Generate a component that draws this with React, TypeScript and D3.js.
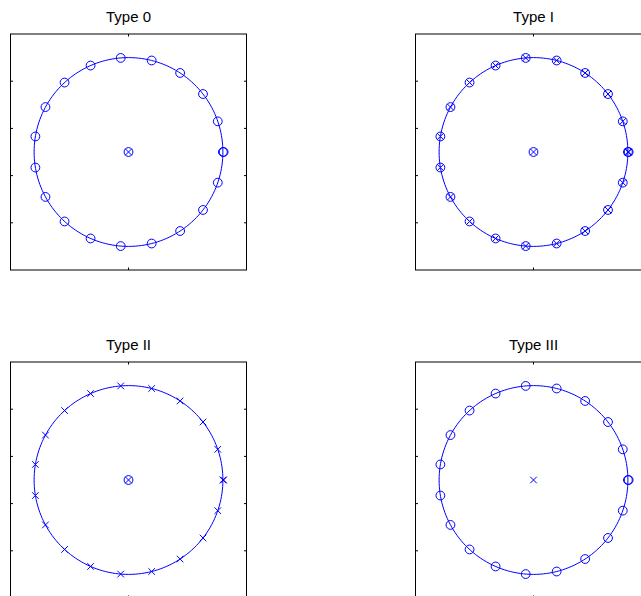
import React from "react";
import * as d3 from "d3";

// Root angles on the unit circle (degrees)
const rootAngles = [0, 18.95, 37.89, 56.84, 75.79, 94.74, 113.68, 132.63, 151.58, 170.53,
  189.47, 208.42, 227.37, 246.32, 265.26, 284.21, 303.16, 322.11, 341.05];
// A second, nearly coincident root near z = 1
const extraRootAngles = [0];
const extraRootRadius = [1.008];

const panelTitles = ["Type 0", "Type I", "Type II", "Type III"];
const circleMarkers = ["o", "ox", "x", "o"];
const centerMarkers = ["ox", "ox", "ox", "x"];

const yTicks = [-0.75, -0.25, 0.25, 0.75];
const xTicks = [0];
const domain: [number, number] = [-1.25, 1.25];

const W = 641, H = 596;
const SIZE = 236;
const lefts = [10.5, 415.5, 10.5, 415.5];
const tops = [34, 34, 362, 362];
const BLUE = "#0000ff";

function Marker({ x, y, kind }: { x: number; y: number; kind: string }) {
  const r = 4.4, s = 3.3;
  const xs = kind.includes("x") ? (
    <g>
      <line x1={x - s} y1={y - s} x2={x + s} y2={y + s} />
      <line x1={x - s} y1={y + s} x2={x + s} y2={y - s} />
    </g>
  ) : null;
  return (
    <g stroke={BLUE} strokeWidth={1} fill="none">
      {kind.includes("o") ? <circle cx={x} cy={y} r={r} /> : null}
      {xs}
    </g>
  );
}

function Panel({ i }: { i: number }) {
  const left = lefts[i], top = tops[i];
  const x = d3.scaleLinear().domain(domain).range([left, left + SIZE]);
  const y = d3.scaleLinear().domain(domain).range([top + SIZE, top]);
  const circ = d3.range(0, 361, 2).map((a) => [Math.cos((a * Math.PI) / 180), Math.sin((a * Math.PI) / 180)]);
  const line = d3.line<number[]>().x((d) => x(d[0])).y((d) => y(d[1]));
  const pts = rootAngles.map((a) => ({ a, m: 1 }))
    .concat(extraRootAngles.map((a, k) => ({ a, m: extraRootRadius[k] })));
  const tl = 2.5;
  return (
    <g>
      <text x={left + SIZE / 2} y={top - 12} textAnchor="middle" fontFamily="'Liberation Sans', Arial, sans-serif" fontSize={15} fill="#000">
        {panelTitles[i]}
      </text>
      <path d={line(circ) || ""} fill="none" stroke={BLUE} strokeWidth={1} />
      {pts.map((p, k) => (
        <Marker key={k} x={x(p.m * Math.cos((p.a * Math.PI) / 180))} y={y(p.m * Math.sin((p.a * Math.PI) / 180))} kind={circleMarkers[i]} />
      ))}
      <Marker x={x(0)} y={y(0)} kind={centerMarkers[i]} />
      <rect x={left} y={top} width={SIZE} height={SIZE} fill="none" stroke="#000" strokeWidth={1} />
      {yTicks.map((t) => (
        <g key={"y" + t} stroke="#000" strokeWidth={1}>
          <line x1={left} x2={left + tl} y1={y(t)} y2={y(t)} />
          <line x1={left + SIZE} x2={left + SIZE - tl} y1={y(t)} y2={y(t)} />
        </g>
      ))}
      {xTicks.map((t) => (
        <g key={"x" + t} stroke="#000" strokeWidth={1}>
          <line x1={x(t)} x2={x(t)} y1={top} y2={top + tl} />
          <line x1={x(t)} x2={x(t)} y1={top + SIZE} y2={top + SIZE - tl} />
        </g>
      ))}
    </g>
  );
}

export default function App() {
  return (
    <svg width={W} height={H} style={{ position: "absolute", left: 0, top: 0, background: "#fff" }}>
      <rect x={0} y={0} width={W} height={H} fill="#fff" />
      {panelTitles.map((_, i) => (
        <Panel key={i} i={i} />
      ))}
    </svg>
  );
}
